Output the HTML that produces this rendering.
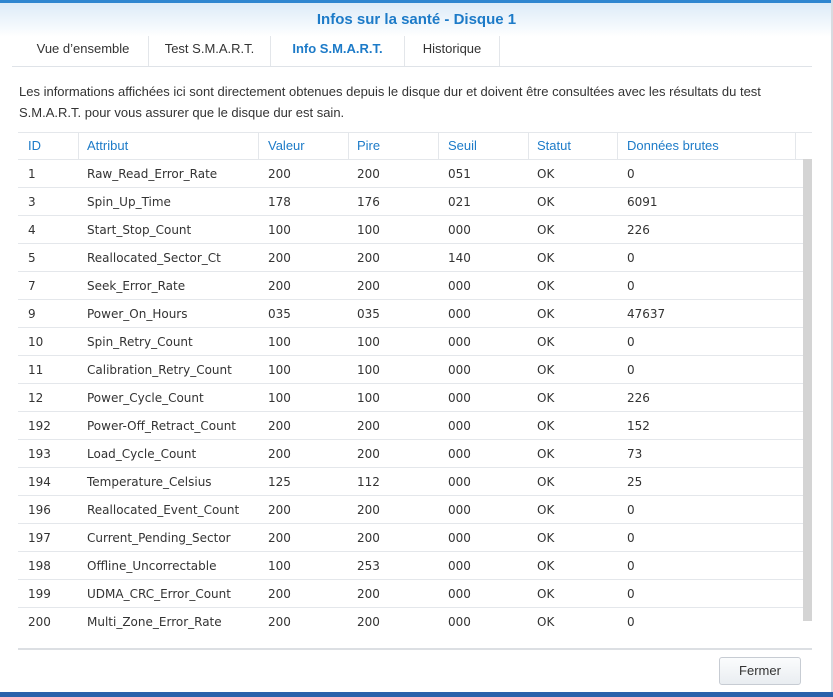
<!DOCTYPE html>
<html><head><meta charset="utf-8"><style>
*{margin:0;padding:0;box-sizing:border-box}
body{width:833px;height:697px;position:relative;background:#fff;overflow:hidden;font-family:"Liberation Sans",sans-serif;color:#333}
.top{position:absolute;left:0;top:0;width:833px;height:3px;background:#2f86d0}
.hdr{position:absolute;left:0;top:3px;width:833px;height:34px;background:linear-gradient(#dcebf8,#fff)}
.title{position:absolute;left:0;width:833px;top:11px;text-align:center;font-weight:bold;font-size:15px;color:#1d7bc8}
.tab{position:absolute;top:36px;height:30px;line-height:26px;font-size:13px;color:#333;text-align:center;border-right:1px solid #e3e6ea}
.tabline{position:absolute;left:12px;top:66px;width:800px;height:1px;background:#dfe3e8}
.desc{position:absolute;left:19px;top:81px;width:800px;font-size:13px;line-height:21px;color:#333}
.hl{position:absolute;left:18px;width:794px;height:1px;background:#e4e7eb}
.th{position:absolute;top:138px;font-size:13px;color:#1d7bc8}
.vs{position:absolute;top:133px;width:1px;height:26px;background:#e4e7eb}
.c{position:absolute;font-family:"DejaVu Sans",sans-serif;font-size:12px;color:#333}
.sb{position:absolute;left:803px;top:159px;width:9px;height:462px;background:#d4d4d4}
.btn{position:absolute;left:719px;top:657px;width:82px;height:28px;border:1px solid #c7ccd3;border-radius:3px;background:linear-gradient(#fbfcfd,#e9edf1);font-size:13px;line-height:26px;text-align:center;color:#333}
.bot{position:absolute;left:0;top:692px;width:833px;height:5px;background:#2a62ab}
.redge{position:absolute;left:831px;top:0;width:2px;height:692px;background:#d8dbe0}
</style></head><body>
<div class="top"></div><div class="hdr"></div>
<div class="title">Infos sur la santé - Disque 1</div>
<div class="tab" style="left:18px;width:131px">Vue d’ensemble</div>
<div class="tab" style="left:149px;width:122px">Test S.M.A.R.T.</div>
<div class="tab" style="left:271px;width:134px;color:#1d7bc8;font-weight:bold">Info S.M.A.R.T.</div>
<div class="tab" style="left:405px;width:95px">Historique</div>
<div class="tabline"></div>
<div class="desc">Les informations affichées ici sont directement obtenues depuis le disque dur et doivent être consultées avec les résultats du test S.M.A.R.T. pour vous assurer que le disque dur est sain.</div>
<div class="hl" style="top:132px"></div>
<div class="th" style="left:28px">ID</div><div class="th" style="left:87px">Attribut</div><div class="th" style="left:268px">Valeur</div><div class="th" style="left:357px">Pire</div><div class="th" style="left:448px">Seuil</div><div class="th" style="left:537px">Statut</div><div class="th" style="left:627px">Données brutes</div>
<div class="vs" style="left:78px"></div><div class="vs" style="left:258px"></div><div class="vs" style="left:348px"></div><div class="vs" style="left:438px"></div><div class="vs" style="left:528px"></div><div class="vs" style="left:617px"></div><div class="vs" style="left:795px"></div>
<div id="rows"></div>
<div class="sb"></div>
<div class="hl" style="top:648px;height:2px;background:#dcdfe3"></div>
<div class="btn">Fermer</div>
<div class="redge"></div>
<div class="bot"></div>
<script>
var d=[[1,"Raw_Read_Error_Rate","200","200","051","0"],[3,"Spin_Up_Time","178","176","021","6091"],[4,"Start_Stop_Count","100","100","000","226"],[5,"Reallocated_Sector_Ct","200","200","140","0"],[7,"Seek_Error_Rate","200","200","000","0"],[9,"Power_On_Hours","035","035","000","47637"],[10,"Spin_Retry_Count","100","100","000","0"],[11,"Calibration_Retry_Count","100","100","000","0"],[12,"Power_Cycle_Count","100","100","000","226"],[192,"Power-Off_Retract_Count","200","200","000","152"],[193,"Load_Cycle_Count","200","200","000","73"],[194,"Temperature_Celsius","125","112","000","25"],[196,"Reallocated_Event_Count","200","200","000","0"],[197,"Current_Pending_Sector","200","200","000","0"],[198,"Offline_Uncorrectable","100","253","000","0"],[199,"UDMA_CRC_Error_Count","200","200","000","0"],[200,"Multi_Zone_Error_Rate","200","200","000","0"]];
var h="",xs=[28,87,268,357,448,537,627];
d.forEach(function(r,i){var y=159+i*28;h+='<div class="hl" style="top:'+y+'px;width:785px"></div>';
var v=[r[0],r[1],r[2],r[3],r[4],"OK",r[5]];
v.forEach(function(t,j){h+='<div class="c" style="left:'+xs[j]+'px;top:'+(y+8)+'px">'+t+'</div>'});});
document.getElementById("rows").innerHTML=h;
</script>
</body></html>
